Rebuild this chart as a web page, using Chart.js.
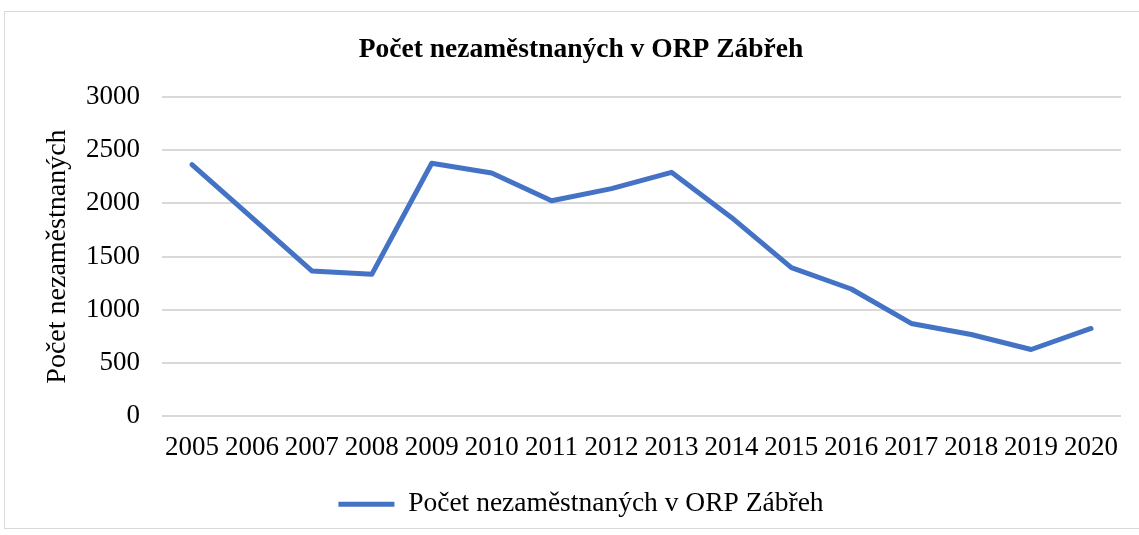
<!DOCTYPE html>
<html>
<head>
<meta charset="utf-8">
<script src="https://cdn.jsdelivr.net/npm/chart.js@4/dist/chart.umd.min.js"></script>
<style>
  body { margin: 0; background: #fff; }
  #box { position: absolute; left: 4px; top: 11px; width: 1140px; height: 518px; border: 1px solid #d9d9d9; box-sizing: border-box; }
  #c { display: block; }
</style>
</head>
<body>
<div id="box"><canvas id="c" width="1138" height="516"></canvas></div>
<script>
// data
const years = ['2005','2006','2007','2008','2009','2010','2011','2012','2013','2014','2015','2016','2017','2018','2019','2020'];
const unemployed = [2365, 1865, 1365, 1333, 2377, 2286, 2025, 2139, 2292, 1868, 1396, 1195, 871, 767, 626, 824];
const seriesName = 'Počet nezaměstnaných v ORP Zábřeh';
const titleText = 'Počet nezaměstnaných v ORP Zábřeh';
const yTitle = 'Počet nezaměstnaných';

const serif = '"Liberation Serif", "Times New Roman", serif';
Chart.defaults.font.family = serif;
Chart.defaults.color = '#000';

new Chart(document.getElementById('c'), {
  type: 'line',
  data: {
    labels: years,
    datasets: [{
      label: seriesName,
      data: unemployed,
      borderColor: '#4472C4',
      backgroundColor: '#4472C4',
      borderWidth: 5,
      pointRadius: 0,
      tension: 0,
      borderCapStyle: 'round',
      borderJoinStyle: 'round'
    }]
  },
  options: {
    responsive: false,
    animation: false,
    layout: { padding: { left: 36, right: 22, top: 0, bottom: 0 } },
    plugins: {
      title: { display: true, text: titleText, font: { size: 27.5, weight: 'bold' }, padding: { top: 21, bottom: 31 } },
      legend: {
        position: 'bottom',
        labels: { usePointStyle: true, pointStyle: 'line', pointStyleWidth: 56, font: { size: 27.5 }, padding: 10 }
      },
      tooltip: { enabled: false }
    },
    scales: {
      x: {
        offset: true,
        grid: { display: false, drawTicks: false },
        border: { display: false },
        ticks: { font: { size: 27 }, padding: 16, maxRotation: 0, autoSkip: false }
      },
      y: {
        min: 0, max: 3000,
        afterFit: s => { s.width = 121; },
        ticks: { stepSize: 500, font: { size: 27 }, padding: 22, callback: v => String(v) },
        grid: { color: '#d9d9d9', lineWidth: 2, drawTicks: false },
        border: { display: false },
        title: { display: true, text: yTitle, font: { size: 28 }, padding: { top: 0, bottom: 4 } }
      }
    }
  }
});
</script>
</body>
</html>
